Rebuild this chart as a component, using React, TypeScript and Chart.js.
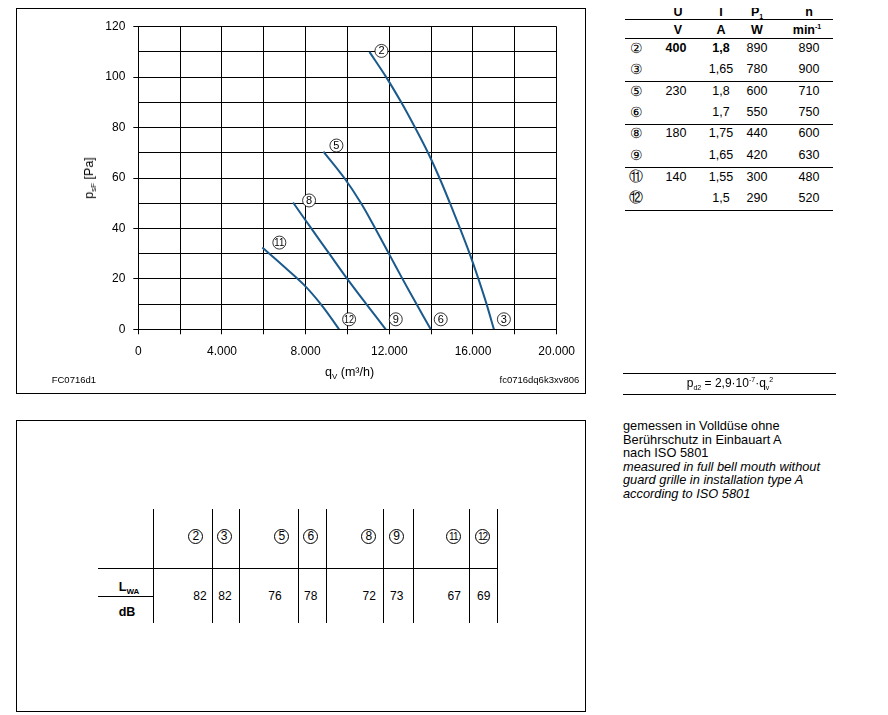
import React, { useEffect, useRef } from 'react';
import { Chart, registerables } from 'chart.js';

Chart.register(...registerables);

const FONT = '"Liberation Sans", Arial, Helvetica, sans-serif';

// Characteristic curves: flow q_V (m³/h) and pressure p_sF (Pa)
const curve2Flow = [11050, 11850, 12570, 13230, 13850, 14400, 14900, 15380, 15840, 16260, 16650, 17000];
const curve2Pressure = [110, 100, 90, 80, 70, 60, 50, 40, 30, 20, 10, 0];
const curve5Flow = [8850, 9850, 10650, 11330, 11980, 12630, 13300, 13980];
const curve5Pressure = [70.5, 60, 50, 40, 30, 20, 10, 0];
const curve8Flow = [7400, 8270, 9130, 9990, 10900, 11830];
const curve8Pressure = [50.3, 40, 30, 20, 10, 0];
const curve11Flow = [5930, 6880, 7900, 8780, 9600];
const curve11Pressure = [32.4, 25.5, 17.8, 9.4, 0];

const curveStartNames = ['2', '5', '8', '11'];
const curveEndNames = ['3', '6', '9', '12'];

const xTickLabels = ['0', '4.000', '8.000', '12.000', '16.000', '20.000'];
const yTickLabels = ['0', '20', '40', '60', '80', '100', '120'];

// Operating data table
const tableNames = ['②', '③', '⑤', '⑥', '⑧', '⑨', '⑪', '⑫'];
const tableU = ['400', '', '230', '', '180', '', '140', ''];
const tableI = ['1,8', '1,65', '1,8', '1,7', '1,75', '1,65', '1,55', '1,5'];
const tableP1 = ['890', '780', '600', '550', '440', '420', '300', '290'];
const tableN = ['890', '900', '710', '750', '600', '630', '480', '520'];

// Sound power table
const soundNames = ['2', '3', '5', '6', '8', '9', '11', '12'];
const soundLwa = ['82', '82', '76', '78', '72', '73', '67', '69'];

// layout (page coordinates)
const startOffsets = [[12, -1], [13, -6], [16, -2], [17, -5]];
const tableRowY = [48, 69, 91, 112, 133, 155, 177, 198];
const soundBadgeX = [195.8, 224.2, 281.8, 310.8, 368.8, 396.7, 453.3, 482.5];
const soundValueX = [200, 225, 275, 310.8, 369.2, 396.7, 454.2, 483.8];
const soundLinesX = [153, 212, 239, 298, 326, 383, 413, 469, 497];

const curveColor = '#1b5a8c';

function drawBadge(ctx: CanvasRenderingContext2D, x: number, y: number, text: string) {
  ctx.save();
  ctx.beginPath();
  ctx.arc(x, y, 6.5, 0, Math.PI * 2);
  ctx.fillStyle = '#fff';
  ctx.fill();
  ctx.lineWidth = 0.8;
  ctx.strokeStyle = '#000';
  ctx.stroke();
  ctx.fillStyle = '#000';
  ctx.font = `11px ${FONT}`;
  ctx.textAlign = 'center';
  ctx.textBaseline = 'middle';
  ctx.fillText(text, x, y + 0.5, 10);
  ctx.restore();
}

const labelPlugin = {
  id: 'curveLabels',
  afterDatasetsDraw(chart: any) {
    const ctx = chart.ctx;
    chart.data.datasets.forEach((_ds: any, i: number) => {
      const pts = chart.getDatasetMeta(i).data;
      const first = pts[0];
      const last = pts[pts.length - 1];
      drawBadge(ctx, first.x + startOffsets[i][0], first.y + startOffsets[i][1], curveStartNames[i]);
      drawBadge(ctx, last.x + 10, last.y - 10, curveEndNames[i]);
    });
  },
};

function T({ x, y, a = 'c', s = 12, b = false, i = false, children, st }: any) {
  const tx = a === 'l' ? '0' : a === 'r' ? '-100%' : '-50%';
  return (
    <div
      style={{
        position: 'absolute',
        left: x - 8,
        top: y - 8,
        transform: `translate(${tx},-50%)`,
        fontSize: s,
        fontWeight: b ? 'bold' : 'normal',
        fontStyle: i ? 'italic' : 'normal',
        whiteSpace: 'nowrap',
        lineHeight: 'normal',
        ...st,
      }}
    >
      {children}
    </div>
  );
}

function HLine({ x1, x2, y }: any) {
  return <div style={{ position: 'absolute', left: x1 - 8, top: y - 8.5, width: x2 - x1, height: 1, background: '#000' }} />;
}
function VLine({ x, y1, y2 }: any) {
  return <div style={{ position: 'absolute', left: x - 8.5, top: y1 - 8, width: 1, height: y2 - y1, background: '#000' }} />;
}

const Sub = ({ children, s = 8 }: any) => (
  <span style={{ fontSize: s, position: 'relative', top: 3 }}>{children}</span>
);
const Sup = ({ children, s = 8 }: any) => (
  <span style={{ fontSize: s, position: 'relative', top: -5 }}>{children}</span>
);

function Badge({ x, y, t }: any) {
  return (
    <div
      style={{
        position: 'absolute',
        left: x - 8 - 7.5,
        top: y - 8 - 7.5,
        width: 15,
        height: 15,
        boxSizing: 'border-box',
        border: '1px solid #000',
        borderRadius: '50%',
        fontSize: t.length > 1 ? 10 : 12,
        lineHeight: '13px',
        textAlign: 'center',
        letterSpacing: t.length > 1 ? -1 : 0,
      }}
    >
      {t}
    </div>
  );
}

export default function App() {
  const ref = useRef<HTMLCanvasElement>(null);

  useEffect(() => {
    if (!ref.current) return;
    const curves = [
      [curve2Flow, curve2Pressure],
      [curve5Flow, curve5Pressure],
      [curve8Flow, curve8Pressure],
      [curve11Flow, curve11Pressure],
    ];
    const datasets = curves.map(([q, p]) => ({
      data: q.map((v, i) => ({ x: v, y: p[i] })),
      showLine: true,
      borderColor: curveColor,
      borderWidth: 2,
      pointRadius: 0,
      tension: 0.35,
      fill: false,
    }));
    const tickFont = { family: FONT, size: 12 };
    const chart = new Chart(ref.current, {
      type: 'scatter',
      data: { datasets },
      options: {
        animation: false,
        responsive: false,
        devicePixelRatio: 1,
        events: [],
        layout: { padding: { left: 0, right: 25, top: 17.7, bottom: 0 } },
        plugins: { legend: { display: false }, tooltip: { enabled: false } },
        scales: {
          x: {
            type: 'linear',
            min: 0,
            max: 20000,
            afterFit: (s: any) => {
              s.height = 63.7;
            },
            ticks: {
              stepSize: 2000,
              autoSkip: false,
              maxRotation: 0,
              padding: 10,
              color: '#000',
              font: tickFont,
              callback: (v: any) => {
                const i = Math.round(Number(v) / 2000);
                return i % 2 === 0 ? xTickLabels[i / 2] : '';
              },
            },
            grid: { color: '#000', lineWidth: 1, tickLength: 5, tickColor: '#000' },
            border: { color: '#000', width: 1 },
          },
          y: {
            type: 'linear',
            min: 0,
            max: 120,
            afterFit: (s: any) => {
              s.width = 121.3;
            },
            ticks: {
              stepSize: 10,
              autoSkip: false,
              padding: 8,
              color: '#000',
              font: tickFont,
              callback: (v: any) => {
                const i = Math.round(Number(v) / 10);
                return i % 2 === 0 ? yTickLabels[i / 2] : '';
              },
            },
            grid: {
              color: '#000',
              lineWidth: 1,
              tickLength: 5,
              tickColor: (ctx: any) =>
                ctx.tick && Math.round(ctx.tick.value) % 20 === 0 ? '#000' : 'rgba(0,0,0,0)',
            },
            border: { color: '#000', width: 1 },
          },
        },
      } as any,
      plugins: [labelPlugin],
    });
    return () => chart.destroy();
  }, []);

  return (
    <div style={{ position: 'relative', width: 872, height: 707, fontFamily: FONT, color: '#000' }}>
      {/* top chart frame */}
      <div style={{ position: 'absolute', left: 8, top: 0, width: 570, height: 386, boxSizing: 'border-box', border: '1px solid #000' }} />
      <canvas
        ref={ref}
        width={568}
        height={384}
        style={{ position: 'absolute', left: 9, top: 1, width: 568, height: 384 }}
      />
      <T x={89} y={178} s={12.5} st={{ transform: 'translate(-50%,-50%) rotate(-90deg)' }}>
        p<Sub>sF</Sub> [Pa]
      </T>
      <T x={349.5} y={371.7} s={12.5}>
        q<Sub>V</Sub> (m³/h)
      </T>
      <T x={51.7} y={379} a="l" s={9.5}>FC0716d1</T>
      <T x={579.3} y={379} a="r" s={9.5}>fc0716dq6k3xv806</T>

      {/* operating data table */}
      <T x={678} y={12} b s={12.5}>U</T>
      <T x={721} y={12} b s={12.5}>I</T>
      <T x={757} y={12} b s={12.5}>
        P<Sub s={7}>1</Sub>
      </T>
      <T x={809} y={12} b s={12.5}>n</T>
      <HLine x1={625} x2={833} y={19} />
      <T x={678} y={30} b s={12.5}>V</T>
      <T x={721} y={30} b s={12.5}>A</T>
      <T x={757} y={30} b s={12.5}>W</T>
      <T x={807} y={30} b s={12.5}>
        min<Sup s={7}>-1</Sup>
      </T>
      <HLine x1={625} x2={833} y={38} />
      {tableNames.map((nm, r) => (
        <React.Fragment key={r}>
          <T x={636} y={tableRowY[r]} s={14}>{nm}</T>
          <T x={676} y={tableRowY[r]} s={12.5} b={r === 0}>{tableU[r]}</T>
          <T x={721} y={tableRowY[r]} s={12.5} b={r === 0}>{tableI[r]}</T>
          <T x={757} y={tableRowY[r]} s={12.5}>{tableP1[r]}</T>
          <T x={809} y={tableRowY[r]} s={12.5}>{tableN[r]}</T>
        </React.Fragment>
      ))}
      <HLine x1={625} x2={833} y={81} />
      <HLine x1={625} x2={833} y={124} />
      <HLine x1={625} x2={833} y={167} />
      <HLine x1={625} x2={833} y={210} />

      {/* dynamic pressure formula */}
      <HLine x1={623} x2={836} y={373} />
      <T x={730} y={383.3} s={12}>
        p<Sub s={7}>d2</Sub> = 2,9·10<Sup s={7}>-7</Sup>·q<Sub s={7}>v</Sub>
        <Sup s={7}>2</Sup>
      </T>
      <HLine x1={623} x2={836} y={394} />

      {/* notes */}
      <div style={{ position: 'absolute', left: 623 - 8, top: 419 - 8, fontSize: 12.8, lineHeight: '13.5px', whiteSpace: 'nowrap' }}>
        <div>gemessen in Volldüse ohne</div>
        <div>Berührschutz in Einbauart A</div>
        <div>nach ISO 5801</div>
        <div style={{ fontStyle: 'italic' }}>measured in full bell mouth without</div>
        <div style={{ fontStyle: 'italic' }}>guard grille in installation type A</div>
        <div style={{ fontStyle: 'italic' }}>according to ISO 5801</div>
      </div>

      {/* sound table frame */}
      <div style={{ position: 'absolute', left: 8, top: 412, width: 570, height: 292, boxSizing: 'border-box', border: '1px solid #000' }} />
      {soundLinesX.map((x, k) => (
        <VLine key={k} x={x} y1={509} y2={623} />
      ))}
      <HLine x1={98} x2={497} y={568} />
      <HLine x1={98} x2={153} y={596} />
      <T x={129} y={587} b s={12.5}>
        L<Sub s={8}>WA</Sub>
      </T>
      <T x={127} y={612} b s={12.5}>dB</T>
      {soundNames.map((nm, k) => (
        <React.Fragment key={k}>
          <Badge x={soundBadgeX[k]} y={536} t={nm} />
          <T x={soundValueX[k]} y={596} s={12}>{soundLwa[k]}</T>
        </React.Fragment>
      ))}
    </div>
  );
}
